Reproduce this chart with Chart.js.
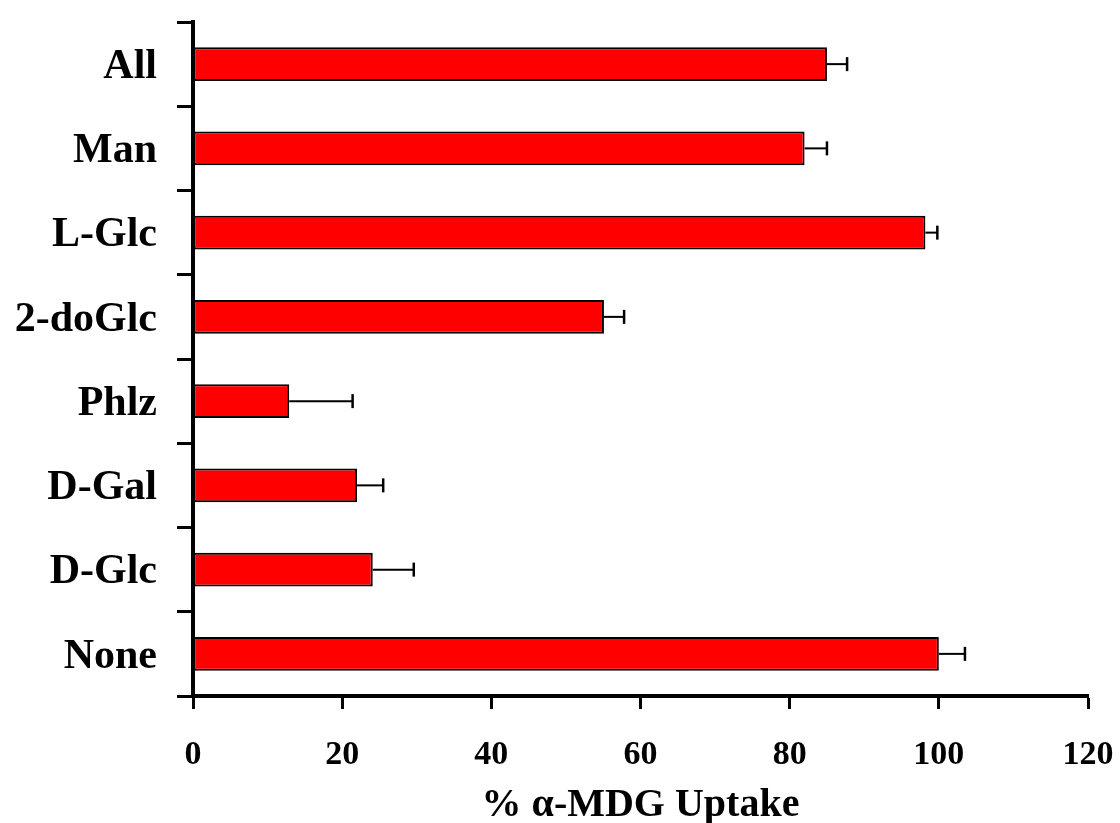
<!DOCTYPE html>
<html>
<head>
<meta charset="utf-8">
<script src="https://cdn.jsdelivr.net/npm/chart.js@4.4.1/dist/chart.umd.min.js"></script>
<style>
  html, body { margin: 0; padding: 0; background: #ffffff; }
  #wrap { width: 1120px; height: 823px; }
</style>
</head>
<body>
<div id="wrap"><canvas id="c" width="1120" height="823"></canvas></div>
<script>
const categories = ["All", "Man", "L-Glc", "2-doGlc", "Phlz", "D-Gal", "D-Glc", "None"];
const uptake = [85.0, 82.0, 98.2, 55.1, 12.9, 22.0, 24.1, 100.0];
const uptakeErr = [2.7, 3.0, 1.6, 2.7, 8.5, 3.5, 5.5, 3.5];
const xTicks = [0, 20, 40, 60, 80, 100, 120];
const xTitle = "% \u03B1-MDG Uptake";

const serif = "'Liberation Serif', 'Times New Roman', serif";

const errorBarPlugin = {
  id: 'errorBars',
  afterDatasetsDraw(chart) {
    const ctx = chart.ctx;
    const meta = chart.getDatasetMeta(0);
    const xs = chart.scales.x;
    ctx.save();
    ctx.strokeStyle = '#000';
    meta.data.forEach((bar, i) => {
      const v = uptake[i];
      const e = uptakeErr[i];
      const x0 = xs.getPixelForValue(v);
      const x1 = xs.getPixelForValue(v + e);
      const y = bar.y;
      ctx.lineWidth = 2;
      ctx.beginPath();
      ctx.moveTo(x0, y);
      ctx.lineTo(x1, y);
      ctx.stroke();
      ctx.lineWidth = 2.5;
      ctx.beginPath();
      ctx.moveTo(x1, y - 7);
      ctx.lineTo(x1, y + 7);
      ctx.stroke();
    });
    ctx.restore();
  }
};

new Chart(document.getElementById('c'), {
  type: 'bar',
  data: {
    labels: categories,
    datasets: [{
      data: uptake,
      backgroundColor: '#ff0000',
      borderColor: '#000000',
      borderWidth: 2,
      borderSkipped: false,
      categoryPercentage: 1.0,
      barPercentage: 0.4
    }]
  },
  options: {
    indexAxis: 'y',
    responsive: false,
    animation: false,
    devicePixelRatio: 1,
    layout: { padding: { top: 22, right: 32, left: 0, bottom: 0 } },
    plugins: {
      legend: { display: false },
      tooltip: { enabled: false }
    },
    scales: {
      x: {
        min: 0,
        max: 120,
        afterBuildTicks(scale) { scale.ticks = xTicks.map(v => ({ value: v })); },
        afterFit(scale) {
          scale.height = 127;
          scale.paddingLeft = 0; scale.paddingRight = 0;
          scale.paddingTop = 0; scale.paddingBottom = 0;
        },
        border: { display: true, color: '#000', width: 4 },
        grid: { display: true, drawOnChartArea: false, drawTicks: true, tickLength: 13, tickWidth: 3, tickColor: '#000' },
        ticks: {
          color: '#000',
          padding: 26,
          maxRotation: 0,
          font: { family: serif, size: 34, weight: 'bold' }
        },
        title: {
          display: true,
          text: xTitle,
          color: '#000',
          padding: { top: 0, bottom: -3 },
          font: { family: serif, size: 40, weight: 'bold', lineHeight: 1 }
        }
      },
      y: {
        afterFit(scale) {
          scale.width = 193;
          scale.paddingLeft = 0; scale.paddingRight = 0;
          scale.paddingTop = 0; scale.paddingBottom = 0;
        },
        border: { display: true, color: '#000', width: 4 },
        grid: { display: true, offset: true, drawOnChartArea: false, drawTicks: true, tickLength: 16, tickWidth: 3, tickColor: '#000' },
        ticks: {
          color: '#000',
          padding: 20,
          labelOffset: 3,
          font: { family: serif, size: 42, weight: 'bold' }
        }
      }
    }
  },
  plugins: [errorBarPlugin]
});
</script>
</body>
</html>
